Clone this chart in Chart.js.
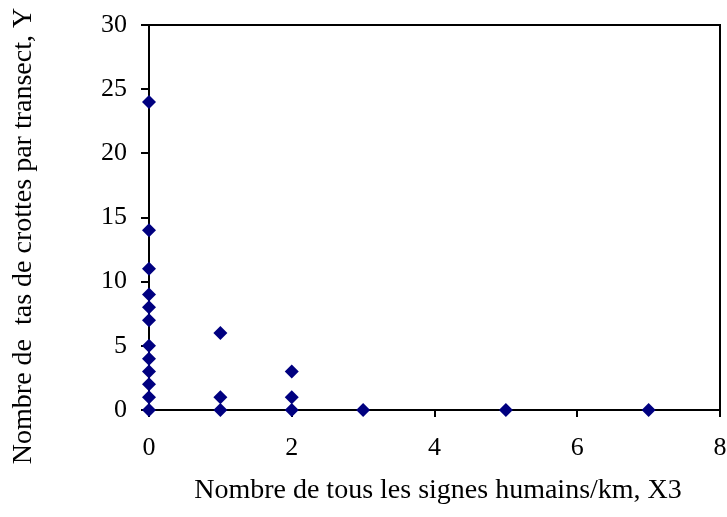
<!DOCTYPE html>
<html>
<head>
<meta charset="utf-8">
<script src="https://cdn.jsdelivr.net/npm/chart.js@4/dist/chart.umd.min.js"></script>
<style>
  html, body { margin: 0; padding: 0; background: #fff; }
  #wrap { width: 727px; height: 517px; }
</style>
</head>
<body>
<div id="wrap"><canvas id="myChart" width="727" height="517"></canvas></div>
<script>
// signes humains/km (X3) et tas de crottes (Y)
var signesHumains = [0, 0, 0, 0, 0, 0, 0, 0, 0, 0, 0, 0, 1, 1, 1, 2, 2, 2, 3, 5, 7];
var tasCrottes = [24, 14, 11, 9, 8, 7, 5, 4, 3, 2, 1, 0, 6, 1, 0, 3, 1, 0, 0, 0, 0];
var xTicks = [0, 2, 4, 6, 8];
var yTicks = [0, 5, 10, 15, 20, 25, 30];
var titreX = "Nombre de tous les signes humains/km, X3";
var titreY = "Nombre de  tas de crottes par transect, Y";

var points = signesHumains.map(function (x, i) {
    return { x: x, y: tasCrottes[i] };
});

var police = "'Liberation Serif', 'Times New Roman', serif";

// cadre + titres des axes
var cadre = {
    id: 'cadre',
    beforeDatasetsDraw: function (chart) {
        var ctx = chart.ctx, a = chart.chartArea;
        ctx.save();
        ctx.strokeStyle = '#000';
        ctx.lineWidth = 2;
        ctx.strokeRect(a.left, a.top, a.right - a.left, a.bottom - a.top);
        ctx.restore();
    },
    afterDraw: function (chart) {
        var ctx = chart.ctx;
        ctx.save();
        ctx.fillStyle = '#000';
        ctx.font = "28px " + police;
        ctx.textAlign = 'center';
        ctx.textBaseline = 'alphabetic';
        ctx.fillText(titreX, 438, 498);
        ctx.translate(31, 236);
        ctx.rotate(-Math.PI / 2);
        ctx.fillText(titreY, 0, 0);
        ctx.restore();
    }
};

// pas de marge automatique autour des etiquettes
function sansMarge(scale) {
    scale.paddingLeft = 0;
    scale.paddingRight = 0;
    scale.paddingTop = 0;
    scale.paddingBottom = 0;
}

var ctx = document.getElementById("myChart").getContext("2d");
var myChart = new Chart(ctx, {
    type: "scatter",
    data: {
        datasets: [
            {
                label: "Y",
                data: points,
                pointStyle: "rectRot",
                pointRadius: 7,
                pointHoverRadius: 7,
                backgroundColor: "#000080",
                borderColor: "#000080",
                borderWidth: 0,
                clip: false
            }
        ]
    },
    options: {
        responsive: false,
        animation: false,
        layout: {
            padding: { top: 25, right: 7, left: 0, bottom: 0 }
        },
        plugins: {
            legend: { display: false },
            tooltip: { enabled: false }
        },
        scales: {
            x: {
                type: "linear",
                min: 0,
                max: 8,
                afterBuildTicks: function (scale) {
                    scale.ticks = xTicks.map(function (v) { return { value: v }; });
                },
                afterFit: function (scale) { scale.height = 107; sansMarge(scale); },
                grid: {
                    drawOnChartArea: false,
                    drawTicks: true,
                    tickLength: 7,
                    color: "#000",
                    lineWidth: 2
                },
                border: { display: false },
                ticks: {
                    color: "#000",
                    padding: 16,
                    maxRotation: 0,
                    font: { family: police, size: 26 }
                }
            },
            y: {
                type: "linear",
                min: 0,
                max: 30,
                afterBuildTicks: function (scale) {
                    scale.ticks = yTicks.map(function (v) { return { value: v }; });
                },
                afterFit: function (scale) { scale.width = 149; sansMarge(scale); },
                grid: {
                    drawOnChartArea: false,
                    drawTicks: true,
                    tickLength: 8,
                    color: "#000",
                    lineWidth: 2
                },
                border: { display: false },
                ticks: {
                    color: "#000",
                    padding: 14,
                    font: { family: police, size: 26 }
                }
            }
        }
    },
    plugins: [cadre]
});
</script>
</body>
</html>
